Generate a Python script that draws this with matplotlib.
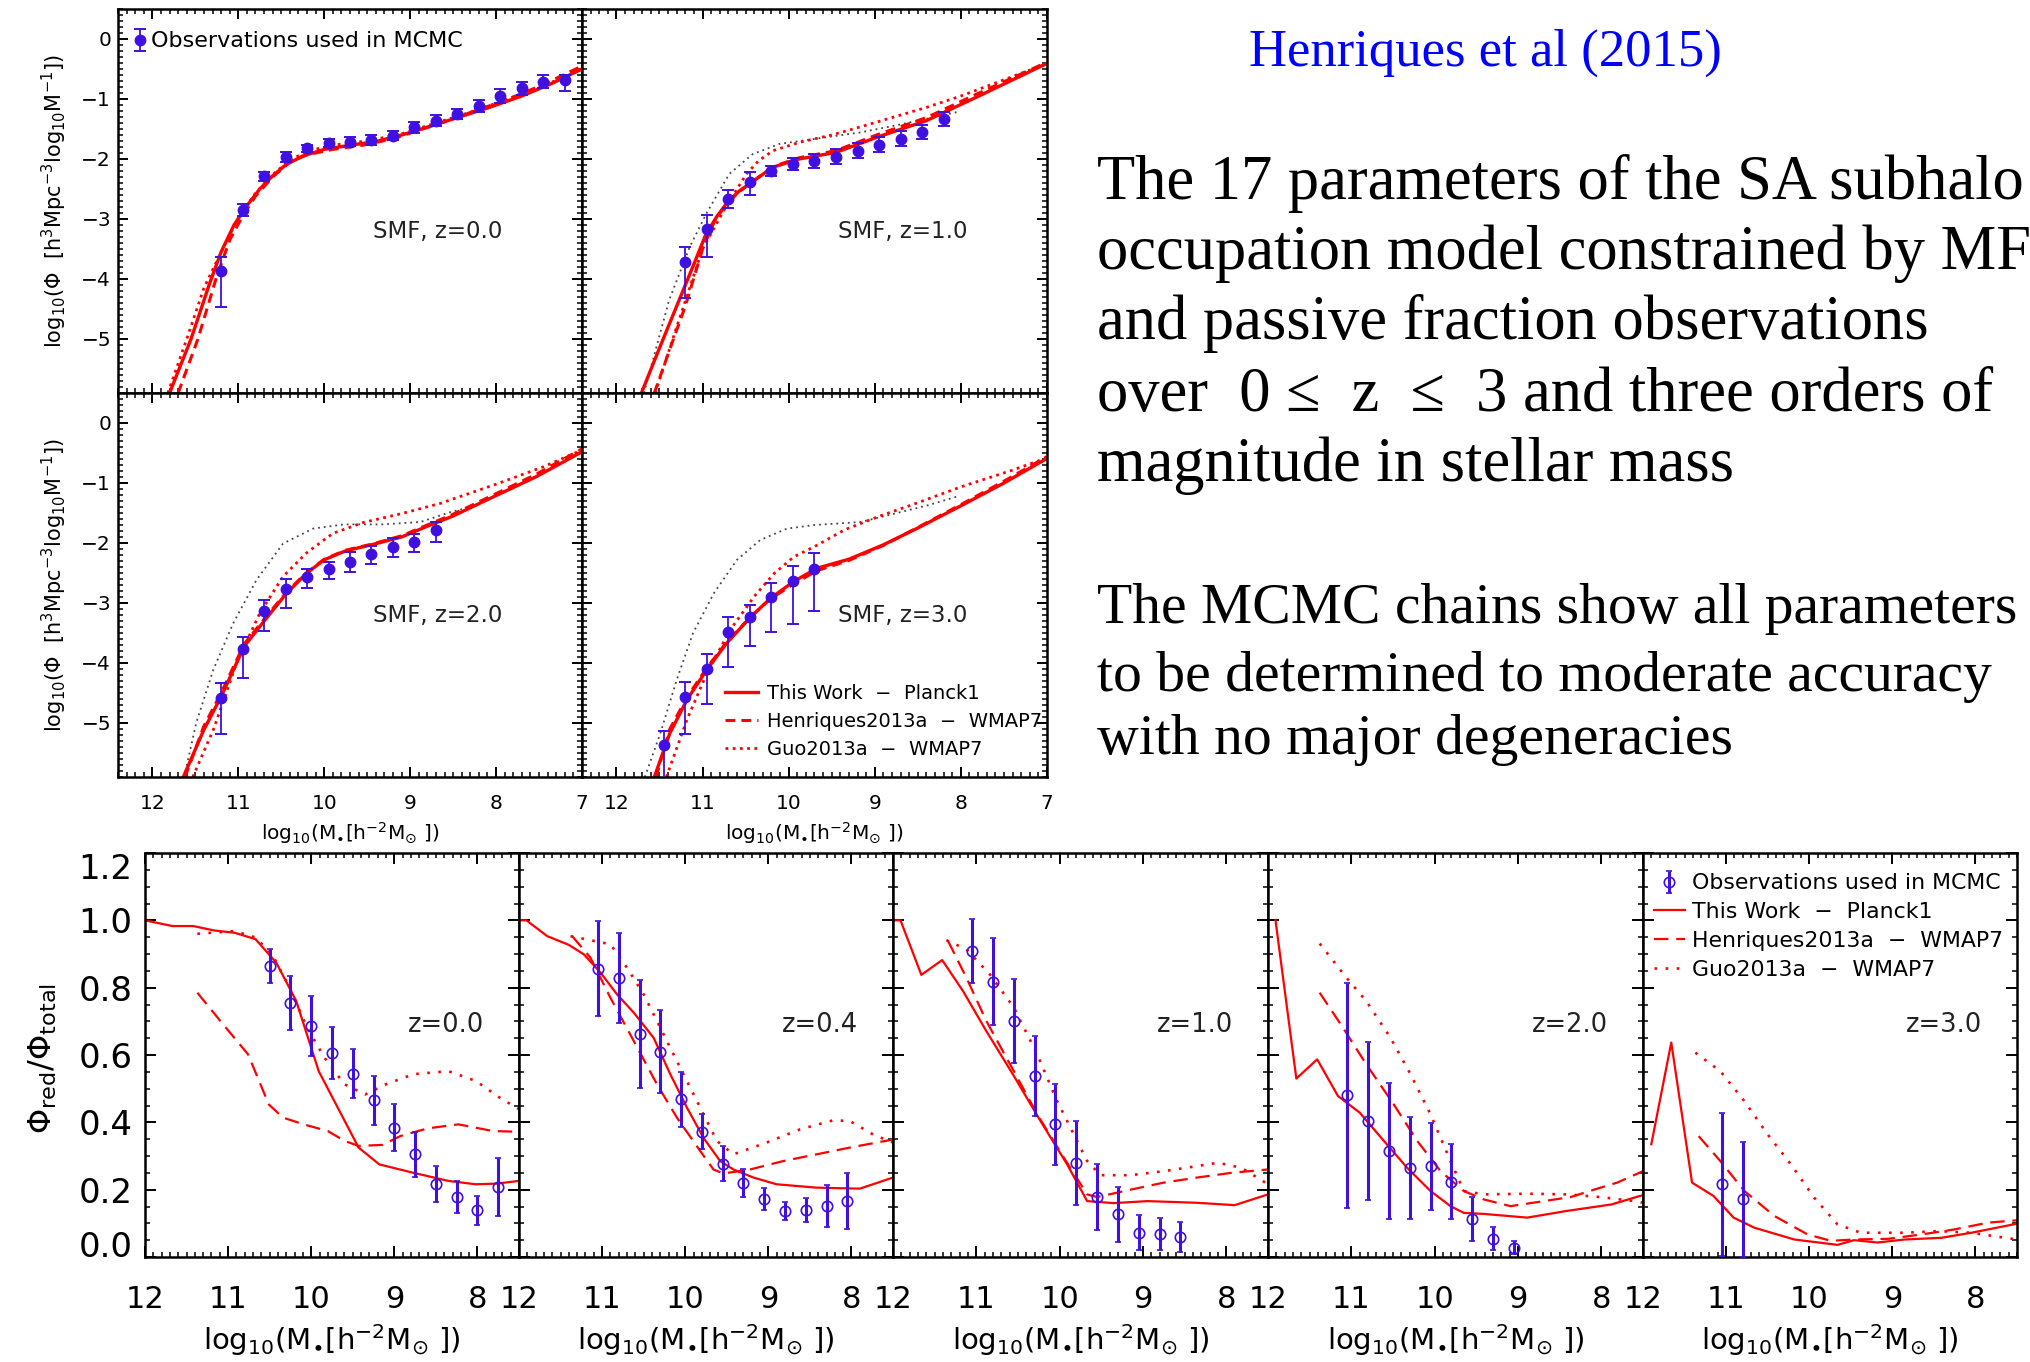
import numpy as np
import matplotlib.pyplot as plt
from matplotlib.ticker import MultipleLocator
from matplotlib.lines import Line2D

W, H = 2031, 1362
RED = '#ff0000'
BLUE = '#3f10e0'

# ---------------- stellar mass functions (top block) ----------------
smf_x_z0 = [11.2, 10.95, 10.7, 10.45, 10.2, 9.95, 9.7, 9.45, 9.2, 8.95, 8.7, 8.45, 8.2, 7.95, 7.7, 7.45, 7.2]
smf_y_z0 = [-3.86, -2.85, -2.29, -1.97, -1.82, -1.73, -1.71, -1.68, -1.61, -1.47, -1.36, -1.25, -1.12, -0.95, -0.82, -0.71, -0.68]
smf_dn_z0 = [0.60, 0.10, 0.08, 0.08, 0.06, 0.07, 0.07, 0.08, 0.08, 0.09, 0.09, 0.09, 0.10, 0.11, 0.11, 0.11, 0.18]
smf_up_z0 = [0.23, 0.10, 0.08, 0.08, 0.06, 0.07, 0.07, 0.08, 0.08, 0.09, 0.09, 0.09, 0.10, 0.11, 0.11, 0.11, 0.08]

smf_x_z1 = [11.2, 10.95, 10.7, 10.45, 10.2, 9.95, 9.7, 9.45, 9.2, 8.95, 8.7, 8.45, 8.2]
smf_y_z1 = [-3.72, -3.17, -2.67, -2.38, -2.20, -2.08, -2.03, -1.96, -1.86, -1.76, -1.66, -1.55, -1.33]
smf_dn_z1 = [0.59, 0.47, 0.15, 0.22, 0.08, 0.10, 0.12, 0.12, 0.12, 0.12, 0.12, 0.12, 0.12]
smf_up_z1 = [0.25, 0.23, 0.15, 0.16, 0.08, 0.10, 0.12, 0.12, 0.12, 0.12, 0.12, 0.12, 0.12]

smf_x_z2 = [11.2, 10.95, 10.7, 10.45, 10.2, 9.95, 9.7, 9.45, 9.2, 8.95, 8.7]
smf_y_z2 = [-4.58, -3.77, -3.13, -2.77, -2.57, -2.44, -2.31, -2.18, -2.06, -1.98, -1.78]
smf_dn_z2 = [0.61, 0.48, 0.33, 0.32, 0.18, 0.16, 0.18, 0.17, 0.17, 0.17, 0.20]
smf_up_z2 = [0.25, 0.21, 0.18, 0.17, 0.13, 0.12, 0.16, 0.13, 0.14, 0.13, 0.13]

smf_x_z3 = [11.45, 11.2, 10.95, 10.7, 10.45, 10.2, 9.95, 9.7]
smf_y_z3 = [-5.37, -4.56, -4.10, -3.48, -3.24, -2.90, -2.64, -2.43]
smf_dn_z3 = [0.60, 0.62, 0.58, 0.58, 0.47, 0.59, 0.71, 0.70]
smf_up_z3 = [0.23, 0.25, 0.25, 0.25, 0.21, 0.24, 0.26, 0.26]

# model curves: This Work (solid), Henriques2013a (dashed), Guo2013a (dotted), black dotted
smf_this_x_z0 = [11.8, 11.55, 11.34, 11.2, 11.05, 10.9, 10.75, 10.6, 10.45, 10.25, 10.0, 9.7, 9.4, 9.1, 8.8, 8.45, 8.1, 7.7, 7.35, 7.0]
smf_this_y_z0 = [-5.9, -5.0, -4.1, -3.55, -3.1, -2.78, -2.5, -2.28, -2.1, -1.95, -1.84, -1.77, -1.71, -1.60, -1.47, -1.31, -1.15, -0.95, -0.74, -0.50]
smf_hen_x_z0 = [11.70, 11.47, 11.26, 11.1, 10.95, 10.8, 10.6, 10.4, 10.2, 9.9, 9.55, 9.19, 8.9, 8.6, 8.29, 7.89, 7.45, 7.0]
smf_hen_y_z0 = [-5.9, -5.0, -4.0, -3.35, -2.95, -2.62, -2.30, -2.05, -1.93, -1.84, -1.77, -1.66, -1.52, -1.38, -1.22, -1.02, -0.76, -0.45]
smf_guo_x_z0 = [11.82, 11.6, 11.4, 11.2, 11.0, 10.8, 10.6, 10.4, 10.2, 9.9, 9.5, 9.1, 8.7, 8.3, 7.9, 7.45, 7.0]
smf_guo_y_z0 = [-5.9, -5.0, -4.15, -3.55, -2.98, -2.57, -2.26, -2.02, -1.87, -1.77, -1.70, -1.58, -1.40, -1.22, -1.02, -0.78, -0.50]

smf_this_x_z1 = [11.71, 11.5, 11.3, 11.1, 10.96, 10.83, 10.70, 10.57, 10.44, 10.19, 9.88, 9.45, 8.98, 8.40, 7.82, 7.02]
smf_this_y_z1 = [-5.9, -5.15, -4.45, -3.75, -3.25, -2.95, -2.70, -2.53, -2.40, -2.14, -2.0, -1.89, -1.64, -1.36, -0.97, -0.42]
smf_hen_x_z1 = [11.56, 11.4, 11.2, 11.0, 10.85, 10.70, 10.57, 10.44, 10.19, 9.88, 9.45, 8.98, 8.40, 7.82, 7.02]
smf_hen_y_z1 = [-5.9, -5.25, -4.45, -3.5, -3.0, -2.72, -2.54, -2.40, -2.13, -1.98, -1.86, -1.60, -1.31, -0.92, -0.40]
smf_guo_x_z1 = [11.55, 11.3, 11.0, 10.75, 10.60, 10.49, 10.35, 10.18, 9.87, 9.5, 9.18, 8.8, 8.40, 8.0, 7.63, 7.02]
smf_guo_y_z1 = [-5.9, -4.8, -3.5, -2.85, -2.5, -2.25, -2.03, -1.86, -1.72, -1.60, -1.47, -1.31, -1.14, -0.95, -0.75, -0.42]
smf_blk_x_z1 = [11.68, 11.39, 11.15, 10.96, 10.69, 10.42, 10.11, 9.87, 9.18, 8.79, 8.40, 8.05]
smf_blk_y_z1 = [-5.9, -4.36, -3.47, -2.92, -2.25, -1.92, -1.75, -1.70, -1.56, -1.45, -1.33, -1.22]

smf_this_x_z2 = [11.64, 11.40, 11.2, 10.93, 10.66, 10.44, 10.21, 10.0, 9.75, 9.45, 9.1, 8.8, 8.5, 8.12, 7.54, 7.0]
smf_this_y_z2 = [-5.9, -5.11, -4.56, -3.72, -3.23, -2.84, -2.51, -2.28, -2.13, -2.03, -1.90, -1.72, -1.55, -1.29, -0.90, -0.48]
smf_hen_x_z2 = [11.62, 11.40, 11.2, 10.93, 10.66, 10.44, 10.21, 10.0, 9.75, 9.45, 9.1, 8.8, 8.5, 8.12, 7.54, 7.0]
smf_hen_y_z2 = [-5.9, -5.05, -4.5, -3.68, -3.2, -2.82, -2.5, -2.27, -2.12, -2.02, -1.88, -1.70, -1.52, -1.26, -0.86, -0.43]
smf_guo_x_z2 = [11.53, 11.29, 11.02, 10.75, 10.48, 10.21, 9.90, 9.55, 9.10, 8.65, 7.98, 7.45, 7.0]
smf_guo_y_z2 = [-5.9, -5.11, -4.0, -3.17, -2.56, -2.17, -1.84, -1.66, -1.51, -1.34, -1.01, -0.73, -0.45]
smf_blk_x_z2 = [11.63, 11.49, 11.29, 11.06, 10.79, 10.48, 10.13, 9.77, 9.32, 8.88, 8.52, 8.21]
smf_blk_y_z2 = [-5.9, -5.0, -4.11, -3.34, -2.62, -2.01, -1.76, -1.69, -1.69, -1.65, -1.48, -1.37]

smf_this_x_z3 = [11.56, 11.38, 11.18, 10.95, 10.72, 10.44, 10.21, 9.94, 9.67, 9.3, 8.9, 8.5, 8.0, 7.5, 7.0]
smf_this_y_z3 = [-5.9, -5.17, -4.61, -4.11, -3.67, -3.23, -2.92, -2.64, -2.42, -2.27, -2.03, -1.75, -1.38, -1.0, -0.59]
smf_hen_x_z3 = [11.54, 11.38, 11.18, 10.95, 10.72, 10.44, 10.21, 9.94, 9.67, 9.3, 8.9, 8.5, 8.0, 7.5, 7.0]
smf_hen_y_z3 = [-5.9, -5.1, -4.57, -4.08, -3.65, -3.23, -2.93, -2.68, -2.46, -2.29, -2.04, -1.74, -1.36, -0.97, -0.56]
smf_guo_x_z3 = [11.42, 11.18, 10.95, 10.68, 10.40, 10.17, 9.94, 9.70, 9.35, 8.96, 8.58, 7.99, 7.41, 7.0]
smf_guo_y_z3 = [-5.9, -4.94, -4.17, -3.45, -2.89, -2.51, -2.23, -2.06, -1.78, -1.56, -1.37, -1.06, -0.79, -0.58]
smf_blk_x_z3 = [11.67, 11.49, 11.30, 11.11, 10.87, 10.60, 10.33, 10.02, 9.70, 9.16, 8.77, 8.38, 8.03]
smf_blk_y_z3 = [-5.9, -5.17, -4.28, -3.50, -2.84, -2.28, -1.95, -1.76, -1.70, -1.65, -1.51, -1.37, -1.22]

# ---------------- red fractions (bottom row) ----------------
fr_x_z00 = [10.5, 10.25, 10.0, 9.75, 9.5, 9.25, 9.0, 8.75, 8.5, 8.25, 8.0, 7.75]
fr_y_z00 = [0.864, 0.755, 0.686, 0.607, 0.545, 0.465, 0.384, 0.305, 0.216, 0.178, 0.139, 0.208]
fr_e_z00 = [0.05, 0.08, 0.09, 0.077, 0.073, 0.072, 0.07, 0.066, 0.054, 0.047, 0.043, 0.086]

fr_x_z04 = [11.05, 10.8, 10.55, 10.3, 10.05, 9.8, 9.55, 9.3, 9.05, 8.8, 8.55, 8.3, 8.05]
fr_y_z04 = [0.856, 0.828, 0.663, 0.610, 0.468, 0.372, 0.277, 0.219, 0.173, 0.137, 0.139, 0.151, 0.166]
fr_e_z04 = [0.141, 0.134, 0.161, 0.123, 0.082, 0.052, 0.052, 0.041, 0.032, 0.026, 0.036, 0.063, 0.084]

fr_x_z10 = [11.05, 10.8, 10.55, 10.3, 10.05, 9.8, 9.55, 9.3, 9.05, 8.8, 8.55]
fr_y_z10 = [0.909, 0.818, 0.701, 0.538, 0.394, 0.280, 0.178, 0.127, 0.072, 0.069, 0.059]
fr_e_z10 = [0.095, 0.129, 0.125, 0.119, 0.121, 0.125, 0.099, 0.082, 0.052, 0.048, 0.044]

fr_x_z20 = [11.05, 10.8, 10.55, 10.3, 10.05, 9.8, 9.55, 9.3, 9.05]
fr_y_z20 = [0.480, 0.404, 0.315, 0.265, 0.270, 0.224, 0.114, 0.054, 0.028]
fr_e_z20 = [0.335, 0.235, 0.201, 0.152, 0.129, 0.111, 0.065, 0.034, 0.020]

fr_x_z30 = [11.05, 10.8]
fr_y_z30 = [0.216, 0.171]
fr_e_z30 = [0.213, 0.170]

fr_this_x_z00 = [12.0, 11.67, 11.42, 11.17, 10.92, 10.67, 10.42, 10.18, 9.91, 9.43, 9.18, 8.77, 8.35, 8.02, 7.77, 7.5]
fr_this_y_z00 = [1.0, 0.983, 0.983, 0.970, 0.963, 0.944, 0.874, 0.760, 0.552, 0.325, 0.275, 0.250, 0.226, 0.216, 0.218, 0.226]
fr_hen_x_z00 = [11.37, 11.09, 10.76, 10.51, 10.34, 10.09, 9.80, 9.60, 9.43, 9.14, 8.93, 8.60, 8.23, 7.81, 7.5]
fr_hen_y_z00 = [0.785, 0.700, 0.602, 0.453, 0.414, 0.394, 0.374, 0.345, 0.330, 0.333, 0.359, 0.382, 0.394, 0.374, 0.372]
fr_guo_x_z00 = [11.37, 10.92, 10.67, 10.47, 10.26, 10.05, 9.84, 9.60, 9.35, 9.10, 8.77, 8.35, 8.02, 7.73, 7.5]
fr_guo_y_z00 = [0.960, 0.968, 0.949, 0.899, 0.800, 0.681, 0.592, 0.513, 0.483, 0.513, 0.543, 0.552, 0.523, 0.473, 0.439]

fr_this_x_z04 = [12.0, 11.91, 11.66, 11.40, 11.22, 11.02, 10.82, 10.62, 10.38, 10.18, 9.98, 9.78, 9.58, 9.42, 9.18, 8.90, 8.42, 7.90, 7.5]
fr_this_y_z04 = [1.0, 1.0, 0.953, 0.927, 0.899, 0.845, 0.780, 0.726, 0.651, 0.543, 0.444, 0.354, 0.285, 0.260, 0.236, 0.216, 0.206, 0.203, 0.236]
fr_hen_x_z04 = [11.36, 11.14, 10.90, 10.62, 10.34, 10.10, 9.82, 9.66, 9.54, 9.22, 8.82, 8.42, 8.02, 7.5]
fr_hen_y_z04 = [0.953, 0.889, 0.770, 0.642, 0.513, 0.414, 0.315, 0.260, 0.248, 0.260, 0.285, 0.305, 0.325, 0.349]
fr_guo_x_z04 = [11.38, 11.18, 10.90, 10.70, 10.50, 10.30, 10.06, 9.82, 9.62, 9.42, 9.02, 8.62, 8.22, 8.02, 7.74, 7.5]
fr_guo_y_z04 = [0.953, 0.943, 0.929, 0.859, 0.780, 0.681, 0.562, 0.444, 0.345, 0.305, 0.340, 0.379, 0.406, 0.404, 0.364, 0.340]

fr_this_x_z10 = [12.0, 11.91, 11.66, 11.41, 11.16, 10.88, 10.55, 10.23, 9.91, 9.67, 9.35, 8.95, 8.35, 7.90, 7.5]
fr_this_y_z10 = [1.0, 1.0, 0.838, 0.882, 0.790, 0.671, 0.538, 0.404, 0.275, 0.166, 0.160, 0.166, 0.161, 0.154, 0.186]
fr_hen_x_z10 = [11.34, 11.12, 10.88, 10.55, 10.27, 9.95, 9.67, 9.55, 9.15, 8.75, 8.35, 7.94, 7.5]
fr_hen_y_z10 = [0.939, 0.830, 0.701, 0.552, 0.424, 0.295, 0.186, 0.178, 0.200, 0.221, 0.236, 0.250, 0.260]
fr_guo_x_z10 = [11.36, 11.12, 10.84, 10.55, 10.27, 10.03, 9.83, 9.67, 9.51, 9.15, 8.75, 8.35, 8.10, 7.82, 7.5]
fr_guo_y_z10 = [0.941, 0.914, 0.840, 0.741, 0.602, 0.463, 0.364, 0.285, 0.243, 0.243, 0.255, 0.270, 0.280, 0.265, 0.216]

fr_this_x_z20 = [11.91, 11.66, 11.41, 11.16, 10.90, 10.61, 10.33, 10.05, 9.81, 9.65, 9.41, 8.89, 8.41, 7.88, 7.5]
fr_this_y_z20 = [1.0, 0.530, 0.587, 0.478, 0.429, 0.345, 0.265, 0.196, 0.151, 0.131, 0.128, 0.117, 0.137, 0.156, 0.184]
fr_hen_x_z20 = [11.38, 11.10, 10.82, 10.49, 10.21, 9.93, 9.65, 9.41, 9.09, 8.69, 8.37, 8.01, 7.81, 7.5]
fr_hen_y_z20 = [0.785, 0.681, 0.572, 0.453, 0.345, 0.255, 0.196, 0.171, 0.151, 0.166, 0.178, 0.206, 0.221, 0.255]
fr_guo_x_z20 = [11.38, 11.06, 10.82, 10.53, 10.29, 10.05, 9.81, 9.65, 9.41, 8.89, 8.41, 8.01, 7.6, 7.5]
fr_guo_y_z20 = [0.931, 0.830, 0.760, 0.651, 0.543, 0.424, 0.285, 0.196, 0.186, 0.188, 0.186, 0.178, 0.166, 0.161]

fr_this_x_z30 = [11.90, 11.66, 11.41, 11.15, 10.91, 10.66, 10.18, 9.66, 9.46, 9.18, 8.85, 8.41, 8.05, 7.5]
fr_this_y_z30 = [0.335, 0.637, 0.221, 0.181, 0.117, 0.087, 0.052, 0.036, 0.050, 0.043, 0.052, 0.057, 0.072, 0.099]
fr_hen_x_z30 = [11.33, 11.07, 10.78, 10.42, 10.02, 9.74, 9.46, 9.05, 8.65, 8.25, 7.85, 7.5]
fr_hen_y_z30 = [0.359, 0.285, 0.196, 0.122, 0.067, 0.048, 0.052, 0.054, 0.067, 0.082, 0.102, 0.109]
fr_guo_x_z30 = [11.37, 11.07, 10.78, 10.50, 10.22, 9.94, 9.66, 9.38, 8.85, 8.45, 8.05, 7.5]
fr_guo_y_z30 = [0.607, 0.552, 0.463, 0.364, 0.275, 0.176, 0.097, 0.072, 0.072, 0.077, 0.072, 0.052]

smf_labels = ['SMF, z=0.0', 'SMF, z=1.0', 'SMF, z=2.0', 'SMF, z=3.0']
fr_labels = ['z=0.0', 'z=0.4', 'z=1.0', 'z=2.0', 'z=3.0']
model_names = ['This Work  \u2212  Planck1', 'Henriques2013a  \u2212  WMAP7', 'Guo2013a  \u2212  WMAP7']
obs_name = 'Observations used in MCMC'

head_text = 'Henriques et al (2015)'
para1 = ['The 17 parameters of the SA subhalo',
         'occupation model constrained by MF',
         'and passive fraction observations',
         'over  0 \u2264  z  \u2264  3 and three orders of',
         'magnitude in stellar mass']
para2 = ['The MCMC chains show all parameters',
         'to be determined to moderate accuracy',
         'with no major degeneracies']

SMF_YLABEL = r'log$_{10}$($\Phi$  [h$^{3}$Mpc$^{-3}$log$_{10}$M$^{-1}$])'
MASS_XLABEL = r'log$_{10}$(M$_{\bullet}$[h$^{-2}$M$_{\odot}$ ])'
FR_YLABEL = r'$\Phi_{\rm red}/\Phi_{\rm total}$'


def px_axes(fig, x0, y0, x1, y1):
    return fig.add_axes([x0 / W, 1 - y1 / H, (x1 - x0) / W, (y1 - y0) / H])


def idl_style(ax, xminor, yminor, xsize, ysize, xpad, ypad, major=7):
    ax.xaxis.set_minor_locator(MultipleLocator(xminor))
    ax.yaxis.set_minor_locator(MultipleLocator(yminor))
    ax.tick_params(which='both', direction='in', top=True, right=True, width=1.4)
    ax.tick_params(which='major', length=major)
    ax.tick_params(which='minor', length=3.5, width=1.1)
    ax.tick_params(axis='x', labelsize=xsize, pad=xpad)
    ax.tick_params(axis='y', labelsize=ysize, pad=ypad)
    for s in ax.spines.values():
        s.set_linewidth(1.8)


plt.rcParams['mathtext.fontset'] = 'dejavusans'
fig = plt.figure(figsize=(W / 100, H / 100), dpi=100)

# ---------- top 2x2 block ----------
top_cols = [118, 582, 1047]
top_rows = [9, 393, 777]
smf_obs = [(smf_x_z0, smf_y_z0, smf_dn_z0, smf_up_z0),
           (smf_x_z1, smf_y_z1, smf_dn_z1, smf_up_z1),
           (smf_x_z2, smf_y_z2, smf_dn_z2, smf_up_z2),
           (smf_x_z3, smf_y_z3, smf_dn_z3, smf_up_z3)]
smf_models = [
    [(smf_this_x_z0, smf_this_y_z0), (smf_hen_x_z0, smf_hen_y_z0), (smf_guo_x_z0, smf_guo_y_z0), None],
    [(smf_this_x_z1, smf_this_y_z1), (smf_hen_x_z1, smf_hen_y_z1), (smf_guo_x_z1, smf_guo_y_z1), (smf_blk_x_z1, smf_blk_y_z1)],
    [(smf_this_x_z2, smf_this_y_z2), (smf_hen_x_z2, smf_hen_y_z2), (smf_guo_x_z2, smf_guo_y_z2), (smf_blk_x_z2, smf_blk_y_z2)],
    [(smf_this_x_z3, smf_this_y_z3), (smf_hen_x_z3, smf_hen_y_z3), (smf_guo_x_z3, smf_guo_y_z3), (smf_blk_x_z3, smf_blk_y_z3)],
]
top_styles = [dict(ls='-', lw=2.4), dict(ls=(0, (3.2, 2.0)), lw=2.2), dict(ls=(0, (1, 1.6)), lw=2.0)]

for k in range(4):
    r, c = divmod(k, 2)
    ax = px_axes(fig, top_cols[c], top_rows[r], top_cols[c + 1], top_rows[r + 1])
    x, y, dn, up = smf_obs[k]
    models = smf_models[k]
    if models[3] is not None:
        ax.plot(models[3][0], models[3][1], color='#444444', ls=(0, (1, 2.2)), lw=1.3)
    lines = []
    for m, st in zip(models[:3], top_styles):
        ln, = ax.plot(m[0], m[1], color=RED, **st)
        lines.append(ln)
    eb = ax.errorbar(x, y, yerr=[dn, up], fmt='o', color=BLUE, ms=7.5, elinewidth=1.3,
                     capsize=4, capthick=1.4, zorder=5)
    ax.set_xlim(12.4, 7.0)
    ax.set_ylim(-5.9, 0.5)
    ax.set_xticks([12, 11, 10, 9, 8, 7])
    ax.set_yticks([0, -1, -2, -3, -4, -5])
    idl_style(ax, 0.1, 0.1, 14.5, 14.5, 12, 5)
    if r == 0:
        ax.tick_params(labelbottom=False)
    if c == 1:
        ax.tick_params(labelleft=False)
    ax.text(0.69, 0.42, smf_labels[k], transform=ax.transAxes, fontsize=16.5,
            ha='center', va='center', color='#222222')
    if k == 0:
        ax.legend([eb], [obs_name], loc='upper left', bbox_to_anchor=(0.0, 0.985),
                  frameon=False, fontsize=16, handlelength=0.5, handletextpad=0.25,
                  borderaxespad=0.35)
    if k == 3:
        ax.legend(lines, model_names, loc='upper left', bbox_to_anchor=(0.29, 0.262),
                  frameon=False, fontsize=14, handlelength=1.7, handletextpad=0.5,
                  labelspacing=0.45, borderaxespad=0.0)
    if c == 0:
        fig.text(54 / W, 1 - (top_rows[r] + top_rows[r + 1]) / 2 / H, SMF_YLABEL,
                 rotation=90, fontsize=15, ha='center', va='center')
    if r == 1:
        fig.text((top_cols[c] + top_cols[c + 1]) / 2 / W, 1 - 833 / H, MASS_XLABEL,
                 fontsize=14.5, ha='center', va='center')

# ---------- bottom row of red fractions ----------
bot_cols = [145, 519, 893, 1268, 1643, 2017]
bot_top, bot_bot = 853, 1257
fr_obs = [(fr_x_z00, fr_y_z00, fr_e_z00), (fr_x_z04, fr_y_z04, fr_e_z04),
          (fr_x_z10, fr_y_z10, fr_e_z10), (fr_x_z20, fr_y_z20, fr_e_z20),
          (fr_x_z30, fr_y_z30, fr_e_z30)]
fr_models = [
    [(fr_this_x_z00, fr_this_y_z00), (fr_hen_x_z00, fr_hen_y_z00), (fr_guo_x_z00, fr_guo_y_z00)],
    [(fr_this_x_z04, fr_this_y_z04), (fr_hen_x_z04, fr_hen_y_z04), (fr_guo_x_z04, fr_guo_y_z04)],
    [(fr_this_x_z10, fr_this_y_z10), (fr_hen_x_z10, fr_hen_y_z10), (fr_guo_x_z10, fr_guo_y_z10)],
    [(fr_this_x_z20, fr_this_y_z20), (fr_hen_x_z20, fr_hen_y_z20), (fr_guo_x_z20, fr_guo_y_z20)],
    [(fr_this_x_z30, fr_this_y_z30), (fr_hen_x_z30, fr_hen_y_z30), (fr_guo_x_z30, fr_guo_y_z30)],
]
bot_styles = [dict(ls='-', lw=1.6), dict(ls=(0, (6.5, 3.5)), lw=1.6), dict(ls=(0, (1, 3.2)), lw=1.9)]

for k in range(5):
    ax = px_axes(fig, bot_cols[k], bot_top, bot_cols[k + 1], bot_bot)
    x, y, e = fr_obs[k]
    lines = []
    for m, st in zip(fr_models[k], bot_styles):
        ln, = ax.plot(m[0], m[1], color=RED, **st)
        lines.append(ln)
    eb = ax.errorbar(x, y, yerr=e, fmt='o', mfc='none', mec=BLUE, ecolor=BLUE, ms=7.5,
                     mew=1.2, elinewidth=2.2, capsize=2.5, capthick=2.0, zorder=5)
    ax.set_xlim(12.0, 7.5)
    ax.set_ylim(0.0, 1.2)
    ax.set_xticks([12, 11, 10, 9, 8])
    ax.set_yticks([0.0, 0.2, 0.4, 0.6, 0.8, 1.0, 1.2])
    ax.set_yticklabels(['0.0', '0.2', '0.4', '0.6', '0.8', '1.0', '1.2'])
    idl_style(ax, 0.1, 0.05, 22, 24.5, 20, 9, major=8)
    if k > 0:
        ax.tick_params(labelleft=False)
    else:
        ticks = ax.yaxis.get_major_ticks()
        ticks[0].label1.set_verticalalignment('baseline')
        ticks[-1].label1.set_verticalalignment('top')
    ax.text(0.805, 0.575, fr_labels[k], transform=ax.transAxes, fontsize=18.5,
            ha='center', va='center', color='#222222')
    if k == 4:
        ax.legend([eb] + lines, [obs_name] + model_names, loc='upper left',
                  bbox_to_anchor=(-0.01, 0.985), frameon=False, fontsize=15.8,
                  handlelength=1.45, handletextpad=0.3, labelspacing=0.4,
                  borderaxespad=0.25)
    fig.text((bot_cols[k] + bot_cols[k + 1]) / 2 / W, 1 - 1340 / H, MASS_XLABEL,
             fontsize=21, ha='center', va='center')

fig.text(43 / W, 1 - 1058 / H, FR_YLABEL, rotation=90, fontsize=23,
         ha='center', va='center')

# ---------- slide text on the right ----------
fig.text(1249 / W, 1 - 66 / H, head_text, color='#0000ff', fontsize=38,
         family='Liberation Serif', ha='left', va='baseline')
for line, base in zip(para1, [199, 269, 339, 411, 481]):
    fig.text(1097 / W, 1 - base / H, line, fontsize=45, family='Liberation Serif',
             ha='left', va='baseline')
for line, base in zip(para2, [623, 691, 754]):
    fig.text(1097 / W, 1 - base / H, line, fontsize=41.5, family='Liberation Serif',
             ha='left', va='baseline')

fig.savefig('out.png', dpi=100)
